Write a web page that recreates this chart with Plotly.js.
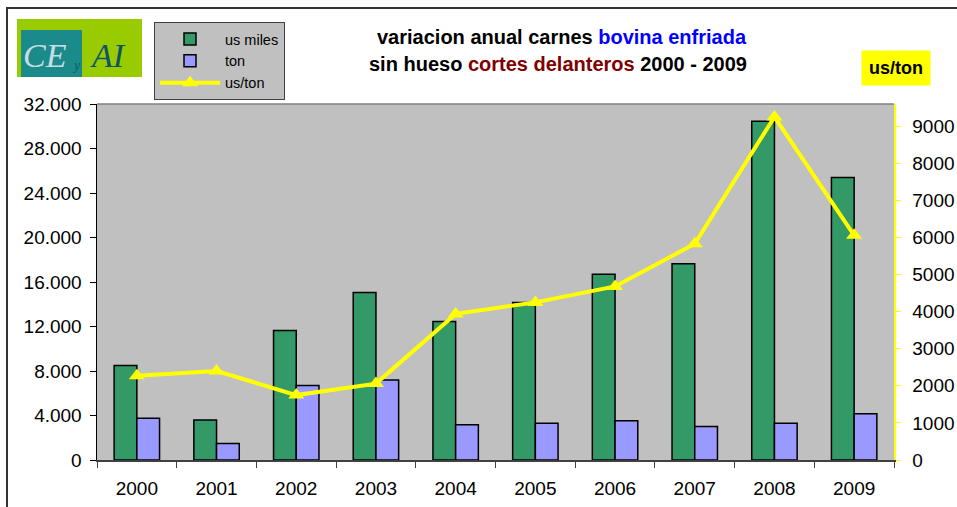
<!DOCTYPE html>
<html>
<head>
<meta charset="utf-8">
<script src="https://cdn.plot.ly/plotly-3.0.1.min.js"></script>
<style>html,body{margin:0;padding:0;background:#fff;}#chart{width:957px;height:507px;}</style>
</head>
<body>
<div id="chart"></div>
<script>
// ---- data ----
const years = ['2000','2001','2002','2003','2004','2005','2006','2007','2008','2009'];
const usMiles = [8500, 3600, 11650, 15050, 12450, 14150, 16700, 17650, 30450, 25400];
const ton = [3760, 1490, 6700, 7200, 3170, 3310, 3530, 3010, 3310, 4160];
const usPorTon = [2270, 2400, 1750, 2060, 3940, 4250, 4680, 5830, 9250, 6060];
const seriesNames = ['us miles', 'ton', 'us/ton'];

// ---- layout geometry helpers (pixel -> paper) ----
const W = 957, H = 507;
const M = {l: 97, r: 63, t: 104, b: 47};
const PW = W - M.l - M.r, PH = H - M.t - M.b;
const px = x => (x - M.l) / PW;
const py = y => (H - M.b - y) / PH;

const traces = [
  {type: 'bar', name: seriesNames[0], x: years, y: usMiles,
   marker: {color: '#339966', line: {color: '#000000', width: 1.5}}},
  {type: 'bar', name: seriesNames[1], x: years, y: ton,
   marker: {color: '#9999ff', line: {color: '#000000', width: 1.5}}},
  {type: 'scatter', mode: 'lines+markers', name: seriesNames[2], x: years, y: usPorTon, yaxis: 'y2',
   line: {color: '#ffff00', width: 4},
   marker: {symbol: 'triangle-up', size: 14, color: '#ffff00'}}
];

const layout = {
  width: W, height: H,
  margin: M,
  paper_bgcolor: '#ffffff',
  plot_bgcolor: '#c0c0c0',
  separators: ',.',
  font: {family: 'Liberation Sans, Arial, sans-serif', color: '#000000', size: 18},
  barmode: 'group',
  bargap: 0.43,
  bargroupgap: 0,
  showlegend: true,
  legend: {
    x: px(154), y: py(22), xanchor: 'left', yanchor: 'top',
    bgcolor: '#c0c0c0', bordercolor: '#404040', borderwidth: 1,
    font: {size: 14.5, color: '#000000'},
    tracegroupgap: 0, itemwidth: 60
  },
  xaxis: {
    type: 'category', range: [-0.5, 9.5], autorange: false,
    showgrid: false, zeroline: false,
    showline: true, linecolor: '#404040', linewidth: 1.5,
    ticks: 'outside', tickson: 'boundaries', ticklen: 6, tickcolor: '#404040',
    tickfont: {size: 19}, ticklabelstandoff: 11
  },
  yaxis: {
    range: [0, 32000], tick0: 0, dtick: 4000,
    tickformat: ',.0f', separatethousands: true,
    showgrid: false, zeroline: false,
    showline: true, linecolor: '#000000', linewidth: 1.5,
    ticks: 'outside', ticklen: 6, tickcolor: '#000000',
    tickfont: {size: 19}, ticklabelstandoff: 4
  },
  yaxis2: {
    overlaying: 'y', side: 'right',
    range: [0, 9600], tick0: 0, dtick: 1000,
    showgrid: false, zeroline: false,
    showline: true, linecolor: '#ffff00', linewidth: 1.5,
    ticks: 'outside', ticklen: 5, tickcolor: '#ffff00',
    tickfont: {size: 19}, ticklabelstandoff: 8
  },
  shapes: [
    // outer chart frame
    {type: 'rect', xref: 'paper', yref: 'paper', x0: px(7), x1: px(980), y0: py(8), y1: py(530),
     line: {color: '#333333', width: 2}, fillcolor: 'rgba(0,0,0,0)', layer: 'below'},
    // top plot border
    {type: 'line', xref: 'paper', yref: 'paper', x0: 0, x1: 1, y0: 1, y1: 1,
     line: {color: '#808080', width: 1.5}},
    // logo
    {type: 'rect', xref: 'paper', yref: 'paper', x0: px(17), x1: px(142), y0: py(77), y1: py(19),
     line: {width: 0}, fillcolor: '#99cc00'},
    {type: 'rect', xref: 'paper', yref: 'paper', x0: px(21), x1: px(82), y0: py(77), y1: py(30),
     line: {width: 0}, fillcolor: '#1b8a8a'}
  ],
  annotations: [
    {xref: 'paper', yref: 'paper', x: px(562), y: py(37), xanchor: 'center', yanchor: 'middle', showarrow: false,
     text: '<b>variacion anual carnes <span style="color:#0000ff">bovina enfriada</span></b>',
     font: {size: 20, color: '#000000'}},
    {xref: 'paper', yref: 'paper', x: px(558), y: py(64), xanchor: 'center', yanchor: 'middle', showarrow: false,
     text: '<b>sin hueso <span style="color:#800000">cortes delanteros</span> 2000 - 2009</b>',
     font: {size: 20, color: '#000000'}},
    {xref: 'paper', yref: 'paper', x: px(896), y: py(68), xanchor: 'center', yanchor: 'middle', showarrow: false,
     text: '<b>us/ton</b>', bgcolor: '#ffff00', borderpad: 7,
     font: {size: 18, color: '#000000'}},
    // logo text
    {xref: 'paper', yref: 'paper', x: px(45), y: py(55), xanchor: 'center', yanchor: 'middle', showarrow: false,
     text: '<i>CE</i>', font: {family: 'Liberation Serif, serif', size: 34, color: '#c8dde2'}},
    {xref: 'paper', yref: 'paper', x: px(76), y: py(65), xanchor: 'center', yanchor: 'middle', showarrow: false,
     text: '<i>y</i>', font: {family: 'Liberation Serif, serif', size: 14, color: '#0d5f66'}},
    {xref: 'paper', yref: 'paper', x: px(108), y: py(55), xanchor: 'center', yanchor: 'middle', showarrow: false,
     text: '<i>AI</i>', font: {family: 'Liberation Serif, serif', size: 34, color: '#0d5566'}}
  ]
};

Plotly.newPlot('chart', traces, layout, {displayModeBar: false, staticPlot: true});
</script>
</body>
</html>
